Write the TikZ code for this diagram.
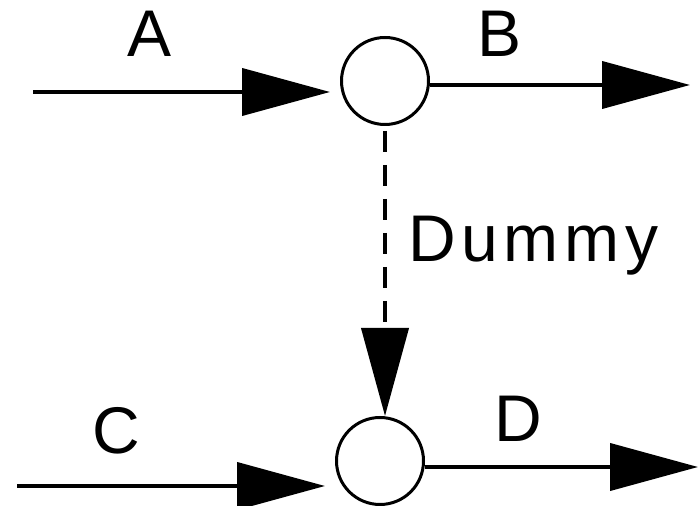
\documentclass[tikz,border=0pt]{standalone}
\usepackage{fontspec}
\setmainfont{Liberation Sans}
\newfontfamily\widesans[LetterSpace=8.5]{Liberation Sans}
\usetikzlibrary{arrows.meta}
\begin{document}
\begin{tikzpicture}[x=0.5pt,y=-0.5pt,
  evt/.style={circle,draw,line width=1.5pt,minimum size=43.5pt,inner sep=0pt},
  act/.style={line width=2pt,-{Triangle[length=44pt,width=23.5pt]}},
  lbl/.style={font=\fontsize{33}{40}\selectfont,inner sep=0pt,anchor=base}]
\useasboundingbox (0,0) rectangle (700,506);

% events
\node [evt] (top) at (385,81) {};
\node [evt] (bot) at (380,461) {};

% free ends
\coordinate (aStart) at (33,92);
\coordinate (bEnd) at (690,85);
\coordinate (cStart) at (17,486);
\coordinate (dEnd) at (698,467);

% activities
\draw [act, shorten >=5pt] (aStart) -- (aStart -| top.west);
\draw [act] (top.east |- bEnd) -- (bEnd);
\draw [act, shorten >=5pt] (cStart) -- (cStart -| bot.west);
\draw [act] (bot.east |- dEnd) -- (dEnd);
\draw [act, dash pattern=on 10.5pt off 6.5pt, dash phase=-2.5pt] (top.south) -- (top.south |- bot.north);

\node [lbl] (la) at (150,57) {A};
\node [lbl] (lb) at (500,57) {B};
\node [lbl] (lc) at (116,454) {C};
\node [lbl] (ld) at (518,442) {D};
\node [lbl, anchor=base west, font=\widesans\fontsize{33}{40}\selectfont] (ldum) at (408,262) {Dummy};
\end{tikzpicture}
\end{document}
